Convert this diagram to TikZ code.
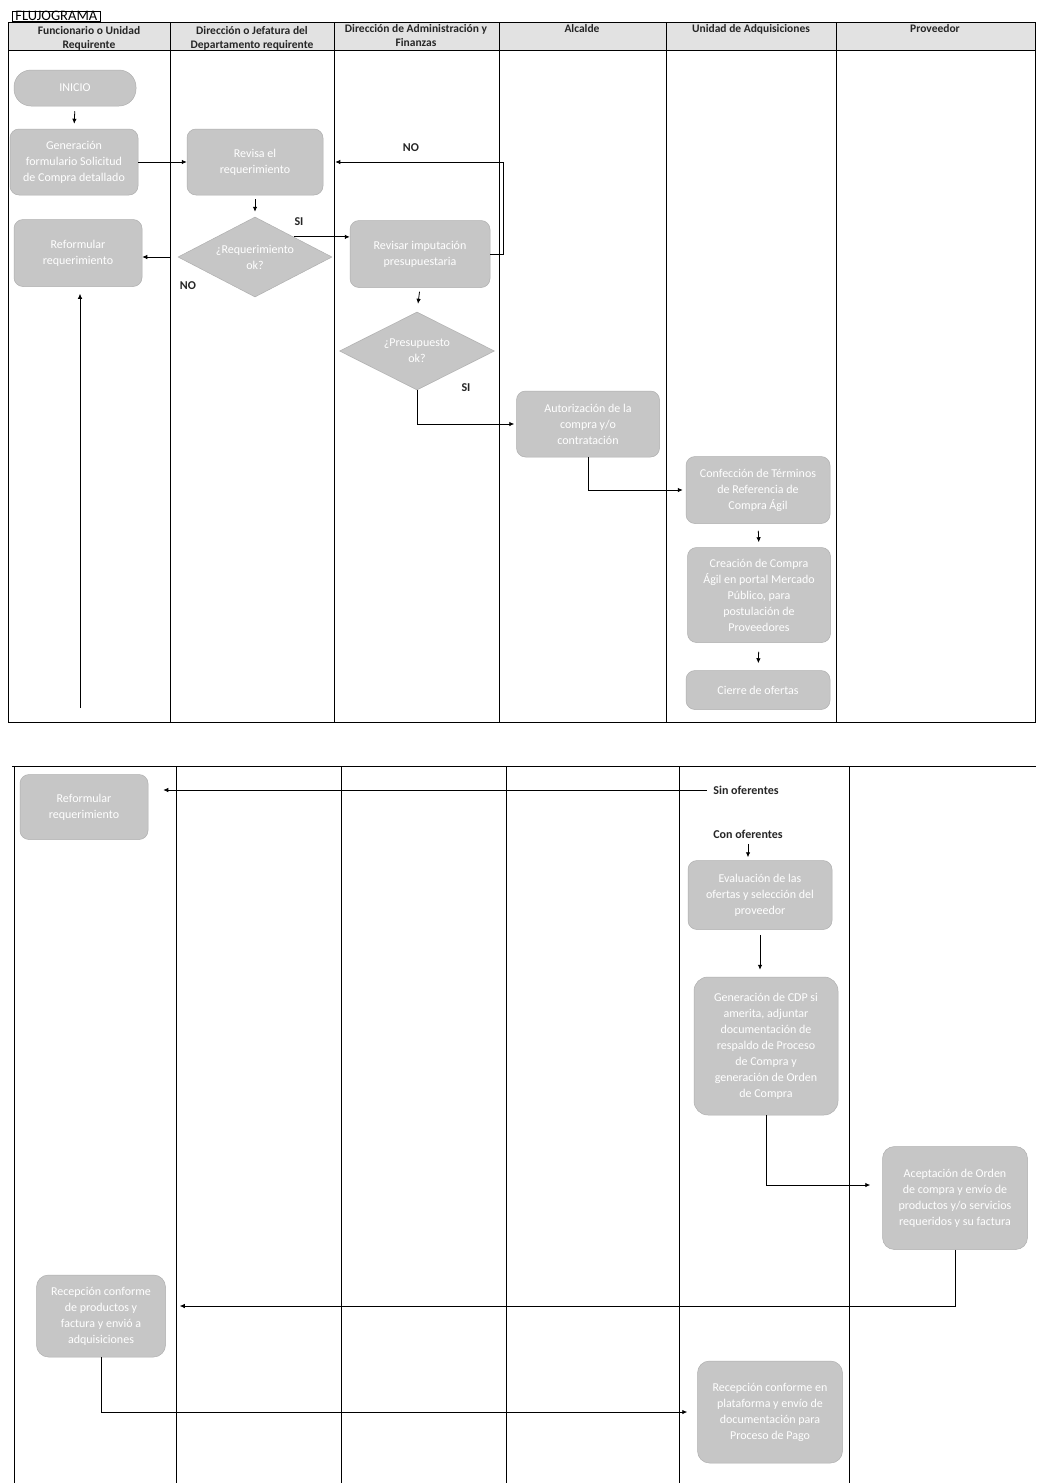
\documentclass[tikz,border=0pt]{standalone}
\usepackage{fontspec}
\setmainfont{Carlito}
\usetikzlibrary{arrows.meta,shapes.geometric}
\definecolor{boxgray}{RGB}{198,198,198}
\definecolor{boxedge}{RGB}{175,175,175}
\definecolor{hdrgray}{RGB}{226,226,226}
\begin{document}
\begin{tikzpicture}[x=1pt,y=-1pt,
  proc/.style={rectangle, rounded corners=9pt, fill=boxgray, draw=boxedge, line width=0.5pt,
    text=white, font=\fontsize{12}{16}\selectfont, align=center, inner sep=2pt},
  dec/.style={diamond, aspect=2, fill=boxgray, draw=boxedge, line width=0.5pt, inner sep=0pt,
    text=white, font=\fontsize{12}{16}\selectfont, align=center},
  hdr/.style={anchor=north, font=\bfseries\fontsize{11.5}{14}\selectfont, align=center, text=black!85, inner sep=1pt},
  lbl/.style={font=\bfseries\fontsize{12}{14}\selectfont, text=black!85},
  lane/.style={draw=black, line width=0.8pt},
  arr/.style={draw=black, line width=0.8pt, -{Latex[length=5pt,width=4.5pt]}},
  con/.style={draw=black, line width=0.8pt}]
\useasboundingbox (0,0) rectangle (1036,1483);
\fill[white] (0,0) rectangle (1036,1483);

% ---------- top section frame ----------
\fill[hdrgray] (8,22) rectangle (1035,50);
\draw[lane] (8,22) rectangle (1035,722);
\draw[lane] (8,50) -- (1035,50);
\foreach \x in {170,334,499,666,836} { \draw[lane] (\x,22) -- (\x,722); }
\node[draw=black, line width=0.8pt, anchor=south west, inner xsep=3pt, inner ysep=0.5pt, font=\fontsize{14.5}{15}\selectfont] (title) at (12,22) {FLUJOGRAMA};

\node[hdr] (h1) at (89,25) {Funcionario o Unidad\\Requirente};
\node[hdr] (h2) at (252,25) {Dirección o Jefatura del\\Departamento requirente};
\node[hdr] (h3) at (416,23) {Dirección de Administración y\\Finanzas};
\node[hdr] (h4) at (582,23) {Alcalde};
\node[hdr] (h5) at (751,23) {Unidad de Adquisiciones};
\node[hdr] (h6) at (935,23) {Proveedor};

% ---------- bottom section frame ----------
\draw[lane] (12,766) -- (1036,766);
\foreach \x in {14,176,341,506,679,849} { \draw[lane] (\x,766) -- (\x,1483); }

% ---------- top nodes ----------
\node[proc, rounded corners=17pt, minimum width=122pt, minimum height=36pt] (inicio) at (75,88) {INICIO};
\node[proc, minimum width=128pt, minimum height=66pt] (gen) at (74,162) {Generación\\formulario Solicitud\\de Compra detallado};
\node[proc, minimum width=136pt, minimum height=66pt] (revisa) at (255,162) {Revisa el\\requerimiento};
\node[proc, minimum width=128pt, minimum height=67pt] (reform1) at (78,253) {Reformular\\requerimiento};
\node[dec, minimum width=154pt, minimum height=80pt] (d1) at (255,257) {¿Requerimiento\\ok?};
\node[proc, minimum width=140pt, minimum height=67pt] (revimp) at (420,254) {Revisar imputación\\presupuestaria};
\node[dec, minimum width=155pt, minimum height=78pt] (d2) at (417,351) {¿Presupuesto\\ok?};
\node[proc, minimum width=143pt, minimum height=66pt] (autor) at (588,424) {Autorización de la\\compra y/o\\contratación};
\node[proc, minimum width=144pt, minimum height=67pt] (confe) at (758,490) {Confección de Términos\\de Referencia de\\Compra Ágil};
\node[proc, minimum width=143pt, minimum height=95pt] (crea) at (759,595) {Creación de Compra\\Ágil en portal Mercado\\Público, para\\postulación de\\Proveedores};
\node[proc, minimum width=144pt, minimum height=39pt] (cierre) at (758,690) {Cierre de ofertas};

% ---------- bottom nodes ----------
\node[proc, minimum width=128pt, minimum height=65pt] (reform2) at (84,807) {Reformular\\requerimiento};
\node[lbl] (sinof) at (746,790) {Sin oferentes};
\node[lbl] (conof) at (748,834) {Con oferentes};
\node[proc, minimum width=144pt, minimum height=69pt] (eval) at (760,895) {Evaluación de las\\ofertas y selección del\\proveedor};
\node[proc, rounded corners=14pt, minimum width=144pt, minimum height=138pt] (gencdp) at (766,1046) {Generación de CDP si\\amerita, adjuntar\\documentación de\\respaldo de Proceso\\de Compra y\\generación de Orden\\de Compra};
\node[proc, rounded corners=12pt, minimum width=145pt, minimum height=103pt] (acept) at (955,1198) {Aceptación de Orden\\de compra y envío de\\productos y/o servicios\\requeridos y su factura};
\node[proc, rounded corners=12pt, minimum width=129pt, minimum height=82pt] (recep1) at (101,1316) {Recepción conforme\\de productos y\\factura y envió a\\adquisiciones};
\node[proc, rounded corners=12pt, minimum width=145pt, minimum height=102pt] (recep2) at (770,1412) {Recepción conforme en\\plataforma y envío de\\documentación para\\Proceso de Pago};

% ---------- labels ----------
\node[lbl] (si1) at (299,222) {SI};
\node[lbl] (no1) at (188,286) {NO};
\node[lbl] (no2) at (411,148) {NO};
\node[lbl] (si2) at (466,388) {SI};

% ---------- connectors top ----------
\draw[arr, shorten <=5pt, shorten >=5pt] (inicio.south) -- (gen.north);
\draw[arr] (gen.east) -- (revisa.west);
\draw[arr, shorten <=4pt, shorten >=5pt] (revisa.south) -- (d1.north);
\draw[arr] (d1.north east) -- (revimp.west |- d1.north east);
\draw[arr, shorten <=8pt] (d1.west) -- (reform1.east |- d1.west);
\coordinate (upstart) at (80,708);
\draw[arr, shorten >=7pt] (upstart) -- (upstart |- reform1.south);
\draw[arr, shorten >=12pt] (revimp.east) -- ++(13,0) |- (revisa.east);
\draw[arr, shorten <=4pt, shorten >=8pt] (revimp.south) -- (d2.north);
\draw[arr, shorten >=2pt] (d2.south) |- (autor.west);
\draw[arr, shorten >=3pt] (autor.south) |- (confe.west);
\draw[arr, shorten <=7pt, shorten >=5pt] (confe.south) -- (crea.north);
\draw[arr, shorten <=9pt, shorten >=7pt] (crea.south) -- (cierre.north);

% ---------- connectors bottom ----------
\draw[arr, shorten <=3pt, shorten >=15pt] (sinof.west) -- (reform2.east |- sinof.west);
\draw[arr, shorten <=2pt, shorten >=3pt] (conof.south) -- (conof.south |- eval.north);
\draw[arr, shorten <=5pt, shorten >=7pt] (eval.south) -- (eval.south |- gencdp.north);
\draw[arr, shorten >=12pt] (gencdp.south) |- ([yshift=13pt]acept.west);
\draw[arr, shorten >=14pt] (acept.south) |- ([yshift=10pt]recep1.east);
\draw[arr, shorten >=10pt] (recep1.south) |- (recep2.west);
\end{tikzpicture}
\end{document}
